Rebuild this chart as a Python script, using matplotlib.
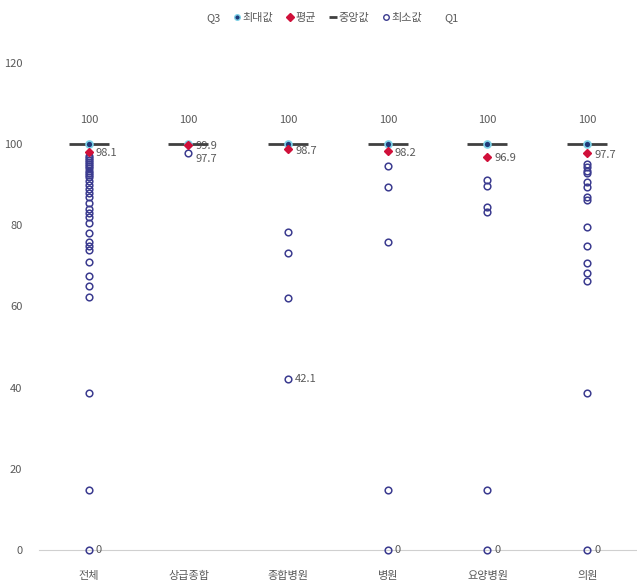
import matplotlib.pyplot as plt
from matplotlib.lines import Line2D

plt.rcParams['font.family'] = ['Noto Sans CJK KR', 'DejaVu Sans']

categories = ['전체', '상급종합', '종합병원', '병원', '요양병원', '의원']
max_vals = [100, 100, 100, 100, 100, 100]
median_vals = [100, 100, 100, 100, 100, 100]
mean_vals = [98.1, 99.9, 98.7, 98.2, 96.9, 97.7]
min_vals = [0, 97.7, 42.1, 0, 0, 0]

# other observations shown as open circles
outliers = [
    [97, 96.5, 96, 95.5, 95, 94.5, 94, 93.5, 93, 92.5, 92, 91, 90, 89, 88, 87,
     85.5, 84, 83, 82, 80.5, 78, 76, 75, 74, 71, 67.5, 65, 62.3, 38.8, 14.8],
    [],
    [78.3, 73.2, 62],
    [94.6, 89.5, 75.8, 14.8],
    [91.2, 89.8, 84.5, 83.2, 14.8],
    [95, 94.3, 93.5, 92.8, 90.7, 89.5, 87, 86.2, 79.6, 75, 70.6, 68.2, 66.4, 38.8],
]

fig = plt.figure(figsize=(6.37, 5.84), dpi=100)
ax = fig.add_axes([0.0612, 0.0582, 0.9388, 0.8340])

x = range(len(categories))
circ = '#3b3b8f'
grey = '#595959'

for i, vals in enumerate(outliers):
    ax.plot([i] * len(vals), vals, 'o', mfc='none', mec=circ, ms=4.8, mew=1.1,
            clip_on=False, zorder=3)

ax.plot(x, min_vals, 'o', mfc='none', mec=circ, ms=4.8, mew=1.1, clip_on=False, zorder=3)
ax.plot(x, median_vals, '_', color='#404040', ms=29, mew=2, zorder=4, clip_on=False)
ax.plot(x, max_vals, 'o', mfc='#1f3a7a', mec='#7fd3e8', ms=5, mew=1.2, zorder=5, clip_on=False)
ax.plot(x, mean_vals, 'D', color='#d0103a', ms=4.5, zorder=6, clip_on=False)

for i in x:
    ax.annotate(f'{max_vals[i]:g}', (i, max_vals[i]), xytext=(0, 14), textcoords='offset points',
                ha='center', va='bottom', fontsize=8, color=grey)
    ax.annotate(f'{mean_vals[i]:g}', (i, mean_vals[i]), xytext=(5, -1), textcoords='offset points',
                ha='left', va='center', fontsize=8, color=grey)
    if min_vals[i] != mean_vals[i]:
        dy = -4 if i == 1 else 0
        ax.annotate(f'{min_vals[i]:g}', (i, min_vals[i]), xytext=(5, dy), textcoords='offset points',
                    ha='left', va='center', fontsize=8, color=grey)

ax.set_xlim(-0.5, 5.5)
ax.set_ylim(0, 120)
ax.set_yticks(range(0, 121, 20))
ax.set_xticks(list(x))
ax.set_xticklabels(categories)
ax.tick_params(axis='both', length=0, labelsize=8, colors=grey)
ax.tick_params(axis='y', pad=12)
ax.tick_params(axis='x', pad=15)
for s in ['top', 'right', 'left']:
    ax.spines[s].set_visible(False)
ax.spines['bottom'].set_color('#d0d0d0')
ax.spines['bottom'].set_zorder(0)

handles = [
    Line2D([], [], linestyle='none', marker='none'),
    Line2D([], [], linestyle='none', marker='o', mfc='#1f3a7a', mec='#7fd3e8', ms=4),
    Line2D([], [], linestyle='none', marker='D', color='#d0103a', ms=4),
    Line2D([], [], linestyle='none', marker='_', color='#404040', ms=6, mew=2),
    Line2D([], [], linestyle='none', marker='o', mfc='none', mec=circ, ms=4),
    Line2D([], [], linestyle='none', marker='none'),
]
labels = ['Q3', '최대값', '평균', '중앙값', '최소값', 'Q1']
fig.legend(handles, labels, loc='upper center', bbox_to_anchor=(0.515, 0.995), ncol=6,
           frameon=False, fontsize=8, labelcolor=grey, handlelength=0.6, handletextpad=0.2,
           columnspacing=1.2)

fig.savefig('out.png', dpi=100)
